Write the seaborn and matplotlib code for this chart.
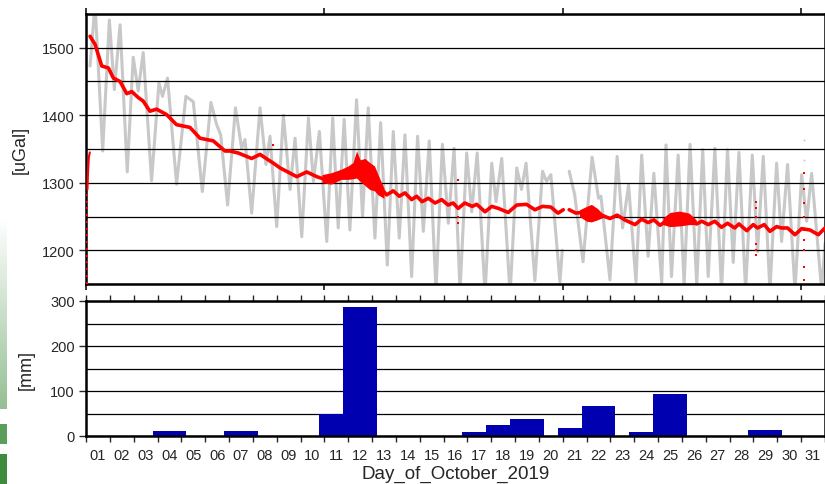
import numpy as np
import pandas as pd
import matplotlib
matplotlib.use('Agg')
import matplotlib.pyplot as plt
import seaborn as sns

# gravity values, x = days since 1 Oct 00:00
# raw signal (tides still in), two pieces because of the data gap on day 21
raw_day_a = [0.17, 0.38, 0.70, 0.98, 1.19, 1.43, 1.73, 1.98, 2.19, 2.40, 2.75, 3.06, 3.21, 3.42,
             3.80, 4.19, 4.50, 4.88, 5.24, 5.48, 5.65, 5.94, 6.27, 6.53, 6.67, 6.95, 7.30, 7.55,
             7.72, 8.00, 8.28, 8.56, 8.77, 9.05, 9.33, 9.54, 9.79, 10.10, 10.35, 10.58, 10.83,
             11.07, 11.35, 11.60, 11.84, 12.12, 12.36, 12.64, 12.89, 13.14, 13.38, 13.66, 13.91,
             14.15, 14.40, 14.68, 14.95, 15.20, 15.44, 15.69, 15.97, 16.18, 16.41, 16.74, 17.02,
             17.20, 17.44, 17.79, 18.07, 18.27, 18.46, 18.83, 19.15, 19.32, 19.50, 19.88, 19.98]
raw_val_a = [1473, 1565, 1347, 1541, 1438, 1534, 1316, 1486, 1436, 1493, 1303, 1448, 1428, 1455,
             1298, 1428, 1420, 1287, 1419, 1386, 1371, 1267, 1411, 1351, 1364, 1255, 1411, 1327,
             1369, 1235, 1400, 1290, 1366, 1220, 1396, 1302, 1376, 1213, 1396, 1233, 1394,
             1230, 1423, 1250, 1411, 1218, 1389, 1178, 1376, 1218, 1371, 1161, 1369,
             1228, 1362, 1140, 1357, 1240, 1351, 1140, 1344, 1257, 1344, 1135, 1329,
             1272, 1336, 1135, 1322, 1290, 1329, 1155, 1317, 1302, 1312, 1153, 1200]
raw_day_b = [20.27, 20.50, 20.85, 21.23, 21.50, 21.60, 21.98, 22.28, 22.51, 22.76, 23.07, 23.31,
             23.58, 23.82, 24.15, 24.33, 24.56, 24.84, 25.09, 25.34, 25.62, 25.87, 26.10, 26.38,
             26.66, 26.91, 27.15, 27.39, 27.67, 27.95, 28.17, 28.41, 28.69, 28.97, 29.18, 29.43,
             29.74, 30.02, 30.23, 30.44, 30.86, 31.00]
raw_val_b = [1317, 1282, 1183, 1338, 1277, 1280, 1156, 1339, 1233, 1297, 1153, 1341,
             1191, 1314, 1151, 1356, 1161, 1341, 1150, 1357, 1148, 1349, 1161, 1351,
             1140, 1349, 1182, 1345, 1140, 1341, 1198, 1339, 1140, 1329, 1213, 1327,
             1140, 1312, 1243, 1314, 1140, 1210]
raw_odd_day = [30.1, 30.1]
raw_odd_val = [1364, 1334]

# tide-corrected residual
corr_day_a = [0.17, 0.38, 0.66, 0.94, 1.15, 1.43, 1.71, 1.92, 2.20, 2.40, 2.68, 2.96, 3.38, 3.80,
              4.36, 4.78, 5.34, 5.83, 6.04, 6.39, 6.95, 7.30, 7.86, 8.14, 8.84, 9.26, 9.68, 10.10,
              10.52, 11.07, 11.42, 11.91, 12.25, 12.61, 12.89, 13.14, 13.38, 13.66, 13.87, 14.10,
              14.36, 14.64, 14.92, 15.19, 15.40, 15.61, 15.89, 16.20, 16.39, 16.74, 17.02, 17.30,
              17.71, 18.07, 18.48, 18.83, 19.15, 19.50, 19.80, 20.02]
corr_val_a = [1517, 1505, 1473, 1470, 1455, 1450, 1432, 1435, 1426, 1421, 1406, 1409, 1401, 1386,
              1382, 1366, 1362, 1347, 1347, 1344, 1336, 1342, 1329, 1322, 1309, 1316, 1309, 1304,
              1312, 1317, 1330, 1322, 1297, 1282, 1288, 1280, 1285, 1275, 1280, 1272,
              1277, 1270, 1275, 1267, 1270, 1262, 1270, 1265, 1268, 1257, 1265, 1262,
              1256, 1267, 1268, 1260, 1265, 1264, 1255, 1260]
corr_day_b = [20.27, 20.55, 21.00, 21.30, 21.63, 21.98, 22.28, 22.60, 23.03, 23.31, 23.58, 23.82,
              24.08, 24.40, 24.80, 25.10, 25.34, 25.62, 25.83, 26.10, 26.38, 26.66, 26.91, 27.21,
              27.39, 27.72, 27.99, 28.17, 28.45, 28.69, 28.97, 29.18, 29.43, 29.74, 30.02, 30.37,
              30.72, 31.00]
corr_val_b = [1260, 1255, 1257, 1257, 1252, 1247, 1252, 1245, 1238, 1246, 1241, 1245,
              1237, 1245, 1247, 1243, 1245, 1239, 1243, 1238, 1243, 1234, 1240, 1233,
              1239, 1229, 1238, 1233, 1238, 1228, 1235, 1233, 1233, 1223, 1232, 1230,
              1223, 1233]
# noisy stretches: lower / upper envelope
noise_day = [[9.9, 10.3, 10.7, 11.0, 11.2, 11.35, 11.5, 11.7, 11.9, 12.1, 12.25, 12.5],
             [20.7, 21.0, 21.2, 21.45, 21.65],
             [24.2, 24.5, 24.9, 25.3, 25.6]]
noise_lo = [[1300, 1298, 1305, 1305, 1306, 1307, 1302, 1296, 1290, 1288, 1282, 1277],
            [1250, 1243, 1242, 1245, 1248],
            [1238, 1235, 1236, 1238, 1238]]
noise_hi = [[1312, 1315, 1320, 1325, 1330, 1347, 1334, 1336, 1330, 1325, 1312, 1292],
            [1260, 1265, 1268, 1262, 1255],
            [1248, 1256, 1258, 1255, 1245]]
# start-up and spike points
start_day = [0.06, 0.09, 0.12, 0.16]
start_val = [1290, 1320, 1338, 1345]
spike_day = [0.05] * 14 + [7.83] + [15.62] * 4 + [28.1] * 6 + [30.1] * 9
spike_val = [1152, 1162, 1172, 1182, 1192, 1202, 1212, 1222, 1232, 1242, 1252, 1262, 1272, 1282,
             1356, 1304, 1262, 1250, 1240, 1272, 1262, 1250, 1210, 1200, 1193,
             1314, 1290, 1270, 1250, 1230, 1215, 1200, 1175, 1156]

# daily rainfall
rain_day = list(range(1, 32))
rain_mm = [0, 0, 0, 12, 0, 0, 12, 0, 0, 0, 50, 287, 0, 0, 0, 0, 9, 24, 38, 0, 18, 66, 0, 9, 93,
           0, 0, 0, 13, 0, 0]

sns.set_style('white')
plt.rcParams['font.family'] = ['Liberation Sans', 'DejaVu Sans']

fig = plt.figure(figsize=(8.25, 4.85), dpi=100)
ax1 = fig.add_axes([86 / 825, 200 / 485, 739 / 825, 270 / 485])
ax2 = fig.add_axes([86 / 825, 48 / 485, 739 / 825, 135 / 485])

# green strip on the far left of the screenshot
grad = np.ones((190, 7, 3))
grad[:, :, 0] = np.linspace(1.0, 0.58, 190)[:, None]
grad[:, :, 1] = np.linspace(1.0, 0.75, 190)[:, None]
grad[:, :, 2] = np.linspace(1.0, 0.58, 190)[:, None]
fig.figimage(grad, xo=0, yo=485 - 410, origin='upper', zorder=5)
fig.figimage(np.ones((20, 7, 3)) * [0.36, 0.62, 0.36], xo=0, yo=485 - 445, zorder=5)
fig.figimage(np.ones((30, 7, 3)) * [0.24, 0.55, 0.24], xo=0, yo=0, zorder=5)

gray = '#c8c8c8'
sns.lineplot(x=raw_day_a, y=raw_val_a, color=gray, lw=2.2, ax=ax1, sort=False, estimator=None, zorder=1)
sns.lineplot(x=raw_day_b, y=raw_val_b, color=gray, lw=2.2, ax=ax1, sort=False, estimator=None, zorder=1)
sns.scatterplot(x=raw_odd_day, y=raw_odd_val, color=gray, s=2, lw=0, ax=ax1, zorder=1)

for d, lo, hi in zip(noise_day, noise_lo, noise_hi):
    ax1.fill_between(d, lo, hi, color='red', lw=0, zorder=3)
sns.lineplot(x=corr_day_a, y=corr_val_a, color='red', lw=2.6, ax=ax1, sort=False, estimator=None, zorder=3)
sns.lineplot(x=corr_day_b, y=corr_val_b, color='red', lw=2.6, ax=ax1, sort=False, estimator=None, zorder=3)
sns.lineplot(x=start_day, y=start_val, color='red', lw=1.5, ax=ax1, sort=False, estimator=None, zorder=3)
sns.scatterplot(x=spike_day, y=spike_val, color='red', s=2, marker='s', lw=0, ax=ax1, zorder=3)

rain_x = [d - 0.5 for d in rain_day]
sns.barplot(x=rain_x, y=rain_mm, native_scale=True, width=1.42, color='#0000b0', saturation=1,
            errorbar=None, linewidth=0, orient='x', ax=ax2)

# top panel axes
ax1.set_xlim(0, 31)
ax1.set_ylim(1150, 1550)
ax1.set_xticks([0, 10, 20, 30])
ax1.set_xticklabels([])
ax1.set_yticks([1200, 1300, 1400, 1500])
ax1.set_yticks(np.arange(1150, 1551, 50), minor=True)
ax1.tick_params(axis='x', which='major', top=True, bottom=True, direction='out', length=4, width=1.3)
ax1.tick_params(axis='y', which='major', left=True, direction='out', length=5, width=1, pad=3, labelsize=10.5)
ax1.tick_params(axis='y', which='minor', length=0)
ax1.set_axisbelow('line')
ax1.yaxis.grid(True, which='both', color='black', lw=0.9)
ax1.set_xlabel('')
ax1.set_ylabel('[uGal]', fontsize=13)
ax1.yaxis.set_label_coords(-0.078, 0.5)

# bottom panel axes
ax2.set_xlim(0, 31)
ax2.set_ylim(0, 300)
ax2.set_xticks(np.arange(32))
ax2.set_xticklabels([])
ax2.set_xticks(np.arange(31) + 0.5, minor=True)
ax2.set_xticklabels(['%02d' % d for d in rain_day], minor=True)
ax2.tick_params(axis='x', which='major', top=True, bottom=True, direction='out', length=4, width=1)
ax2.tick_params(axis='x', which='minor', length=0, pad=9, labelsize=10.5)
ax2.set_yticks([0, 100, 200, 300])
ax2.set_yticks([50, 150, 250], minor=True)
ax2.tick_params(axis='y', which='major', left=True, direction='out', length=5, width=1, pad=3, labelsize=10.5)
ax2.tick_params(axis='y', which='minor', length=0)
ax2.set_axisbelow(True)
ax2.yaxis.grid(True, which='both', color='black', lw=0.9)
ax2.set_xlabel('Day_of_October_2019', fontsize=13.5, labelpad=2)
ax2.set_ylabel('[mm]', fontsize=13)
ax2.yaxis.set_label_coords(-0.069, 0.5)

for ax in (ax1, ax2):
    for s in ax.spines.values():
        s.set_linewidth(1.8)
        s.set_color('black')

fig.savefig('out.png', dpi=100)
